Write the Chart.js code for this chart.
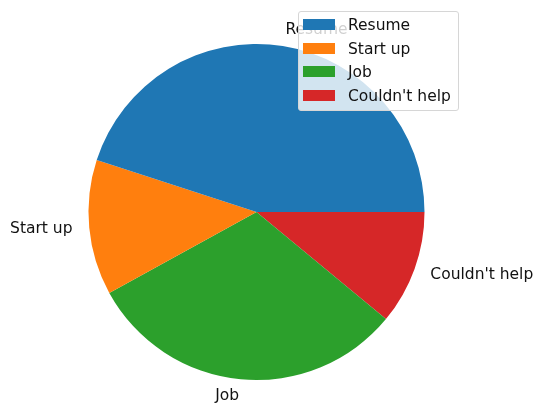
<!DOCTYPE html>
<html>
<head>
<meta charset="utf-8">
<script src="https://cdn.jsdelivr.net/npm/chart.js@4"></script>
<style>
  body { margin: 0; background: #fff; }
  #wrap { position: relative; width: 538px; height: 403px; }
  #legend {
    position: absolute; left: 298px; top: 11px; width: 159px; height: 98px;
    background: rgba(255,255,255,0.8); border: 1px solid #d6d6d6; border-radius: 3px;
    font-family: "DejaVu Sans", sans-serif; font-size: 15.5px; color: #111;
  }
  .item { position: absolute; left: 4px; height: 20px; line-height: 20px; white-space: nowrap; }
  .item span.sw { position: absolute; left: 0; top: 4px; width: 32px; height: 11px; }
  .item span.tx { position: absolute; left: 45px; top: 0; }
</style>
</head>
<body>
<div id="wrap">
  <canvas id="myChart" width="538" height="403"></canvas>
  <div id="legend"></div>
</div>
<script>
var labels = ['Resume', 'Start up', 'Job', "Couldn't help"];
var values = [45, 13, 31, 11];
var colors = ['#1f77b4', '#ff7f0e', '#2ca02c', '#d62728'];

// chart.js goes clockwise, matplotlib counterclockwise: feed reversed order
var rLabels = labels.slice().reverse();
var rValues = values.slice().reverse();
var rColors = colors.slice().reverse();

var outsideLabels = {
  id: 'outsideLabels',
  afterDatasetsDraw: function(chart) {
    var c = chart.ctx;
    var arcs = chart.getDatasetMeta(0).data;
    c.save();
    c.font = '15.5px "DejaVu Sans", sans-serif';
    c.fillStyle = '#111';
    c.textBaseline = 'middle';
    arcs.forEach(function(arc, i) {
      var mid = (arc.startAngle + arc.endAngle) / 2;
      var r = arc.outerRadius * 1.1;
      var x = arc.x + Math.cos(mid) * r;
      var y = arc.y + Math.sin(mid) * r;
      c.textAlign = Math.cos(mid) >= 0 ? 'left' : 'right';
      c.fillText(rLabels[i], x, y);
    });
    c.restore();
  }
};

var ctx = document.getElementById('myChart');
var myChart = new Chart(ctx, {
  type: 'pie',
  data: {
    labels: rLabels,
    datasets: [{
      data: rValues,
      backgroundColor: rColors,
      borderWidth: 0
    }]
  },
  options: {
    responsive: false,
    animation: false,
    rotation: 90,
    layout: { padding: { left: 88, right: 113, top: 44, bottom: 23 } },
    plugins: {
      legend: { display: false },
      tooltip: { enabled: false }
    }
  },
  plugins: [outsideLabels]
});

var lg = document.getElementById('legend');
labels.forEach(function(l, i) {
  var d = document.createElement('div');
  d.className = 'item';
  d.style.top = (3 + i * 23.7) + 'px';
  d.innerHTML = '<span class="sw"></span><span class="tx"></span>';
  d.querySelector('.sw').style.background = colors[i];
  d.querySelector('.tx').textContent = l;
  lg.appendChild(d);
});
</script>
</body>
</html>
